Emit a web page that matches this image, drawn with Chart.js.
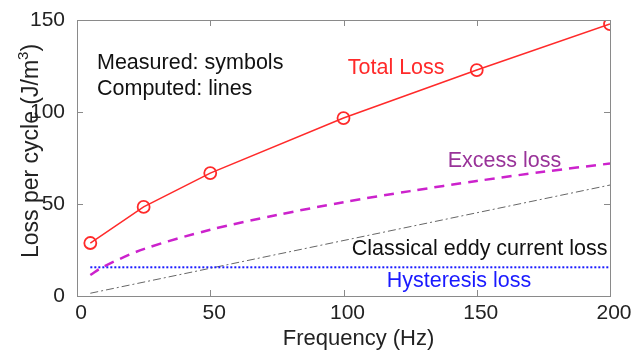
<!DOCTYPE html>
<html>
<head>
<meta charset="utf-8">
<script src="https://cdn.jsdelivr.net/npm/chart.js@4/dist/chart.umd.min.js"></script>
<style>
  html, body { margin: 0; padding: 0; background: #fff; }
  #wrap { width: 644px; height: 350px; }
</style>
</head>
<body>
<div id="wrap"><canvas id="myChart" width="644" height="350"></canvas></div>
<script>
// frequencies (Hz) and losses per cycle (J/m^3)
var measuredFreq = [5, 25, 50, 100, 150, 200];
var totalLoss = [28.8, 48.4, 66.8, 96.7, 122.8, 147.8];

var excessFreq = [5, 10, 25, 50, 75, 100, 125, 150, 175, 200];
var excessLoss = [11.4, 16, 25.5, 36, 44, 51, 57, 62.5, 67.5, 72];

var eddyFreq = [5, 200];
var eddyLoss = [1.5, 60.3];

var hystFreq = [5, 200];
var hystLoss = [15.6, 15.6];

var xTicks = [0, 50, 100, 150, 200];
var yTicks = [0, 50, 100, 150];

// text notes: [label, x, y (baseline), colour]
var notes = [
    ['Measured: symbols', 7.5, 123.4, '#111'],
    ['Computed: lines', 7.5, 109.2, '#111'],
    ['Total Loss', 101.6, 120.7, '#ff2a2a'],
    ['Excess loss', 139.1, 70.1, '#993399'],
    ['Classical eddy current loss', 103.1, 22.3, '#111'],
    ['Hysteresis loss', 116.2, 4.9, '#1a1aff']
];

function pts(xs, ys){
    return xs.map(function(x, i){ return {x: x, y: ys[i]}; });
}

var FONT = '"Liberation Sans", Arial, sans-serif';

var framePlugin = {
    id: 'frame',
    afterDraw: function(chart){
        var ctx = chart.ctx;
        var a = chart.chartArea;
        var xs = chart.scales.x, ys = chart.scales.y;
        ctx.save();
        ctx.strokeStyle = '#8a8a8a';
        ctx.lineWidth = 1;
        ctx.strokeRect(a.left + 0.5, a.top + 0.5, a.right - a.left, a.bottom - a.top);
        ctx.beginPath();
        xTicks.forEach(function(v){
            var p = Math.round(xs.getPixelForValue(v)) + 0.5;
            ctx.moveTo(p, a.bottom); ctx.lineTo(p, a.bottom - 6);
            ctx.moveTo(p, a.top); ctx.lineTo(p, a.top + 6);
        });
        yTicks.forEach(function(v){
            var p = Math.round(ys.getPixelForValue(v)) + 0.5;
            ctx.moveTo(a.left, p); ctx.lineTo(a.left + 6, p);
            ctx.moveTo(a.right, p); ctx.lineTo(a.right - 6, p);
        });
        ctx.stroke();

        // annotations
        ctx.font = '21.5px ' + FONT;
        ctx.textBaseline = 'alphabetic';
        ctx.textAlign = 'left';
        notes.forEach(function(n){
            ctx.fillStyle = n[3];
            ctx.fillText(n[0], xs.getPixelForValue(n[1]), ys.getPixelForValue(n[2]));
        });

        // x axis title
        ctx.fillStyle = '#222';
        ctx.font = '22px ' + FONT;
        ctx.textAlign = 'center';
        ctx.fillText('Frequency (Hz)', (a.left + a.right) / 2 + 15, 345);
        ctx.textAlign = 'left';

        // y axis title with superscript
        ctx.translate(38, 151);
        ctx.rotate(-Math.PI / 2);
        ctx.font = '23px ' + FONT;
        var main = 'Loss per cycle (J/m';
        var w1 = ctx.measureText(main).width;
        ctx.font = '15px ' + FONT;
        var w2 = ctx.measureText('3').width;
        ctx.font = '23px ' + FONT;
        var w3 = ctx.measureText(')').width;
        var start = -(w1 + w2 + w3) / 2;
        ctx.fillText(main, start, 0);
        ctx.font = '15px ' + FONT;
        ctx.fillText('3', start + w1, -10);
        ctx.font = '23px ' + FONT;
        ctx.fillText(')', start + w1 + w2, 0);
        ctx.restore();
    }
};

var ctx = document.getElementById('myChart').getContext('2d');
var chart = new Chart(ctx, {
    type: 'line',
    data: {
        datasets: [{
            label: 'Hysteresis loss',
            data: pts(hystFreq, hystLoss),
            borderColor: '#1a1aff',
            borderWidth: 2,
            borderDash: [2, 2],
            pointRadius: 0
        }, {
            label: 'Classical eddy current loss',
            data: pts(eddyFreq, eddyLoss),
            borderColor: '#666',
            borderWidth: 1,
            borderDash: [8, 3, 2, 3],
            pointRadius: 0
        }, {
            label: 'Excess loss',
            data: pts(excessFreq, excessLoss),
            borderColor: '#cc22cc',
            borderWidth: 2.5,
            borderDash: [10, 7],
            pointRadius: 0,
            tension: 0.3
        }, {
            label: 'Total Loss',
            data: pts(measuredFreq, totalLoss),
            borderColor: '#ff2a2a',
            borderWidth: 1.5,
            pointRadius: 6,
            pointBorderWidth: 1.8,
            pointBackgroundColor: 'rgba(0,0,0,0)',
            pointBorderColor: '#ff2a2a'
        }]
    },
    options: {
        responsive: false,
        animation: false,
        layout: { padding: { left: 0, right: 34, top: 20, bottom: 0 } },
        plugins: { legend: { display: false }, tooltip: { enabled: false } },
        scales: {
            x: {
                type: 'linear',
                min: 0, max: 200,
                afterBuildTicks: function(s){ s.ticks = xTicks.map(function(v){ return {value: v}; }); },
                afterFit: function(s){ s.height = 54; },
                grid: { display: false },
                border: { display: false },
                ticks: { color: '#222', font: { size: 21, family: FONT }, padding: -3, labelOffset: 4, maxRotation: 0 }
            },
            y: {
                min: 0, max: 150,
                afterBuildTicks: function(s){ s.ticks = yTicks.map(function(v){ return {value: v}; }); },
                afterFit: function(s){ s.width = 77; },
                grid: { display: false },
                border: { display: false },
                ticks: { color: '#222', font: { size: 21, family: FONT }, padding: 4 }
            }
        }
    },
    plugins: [framePlugin]
});
</script>
</body>
</html>
